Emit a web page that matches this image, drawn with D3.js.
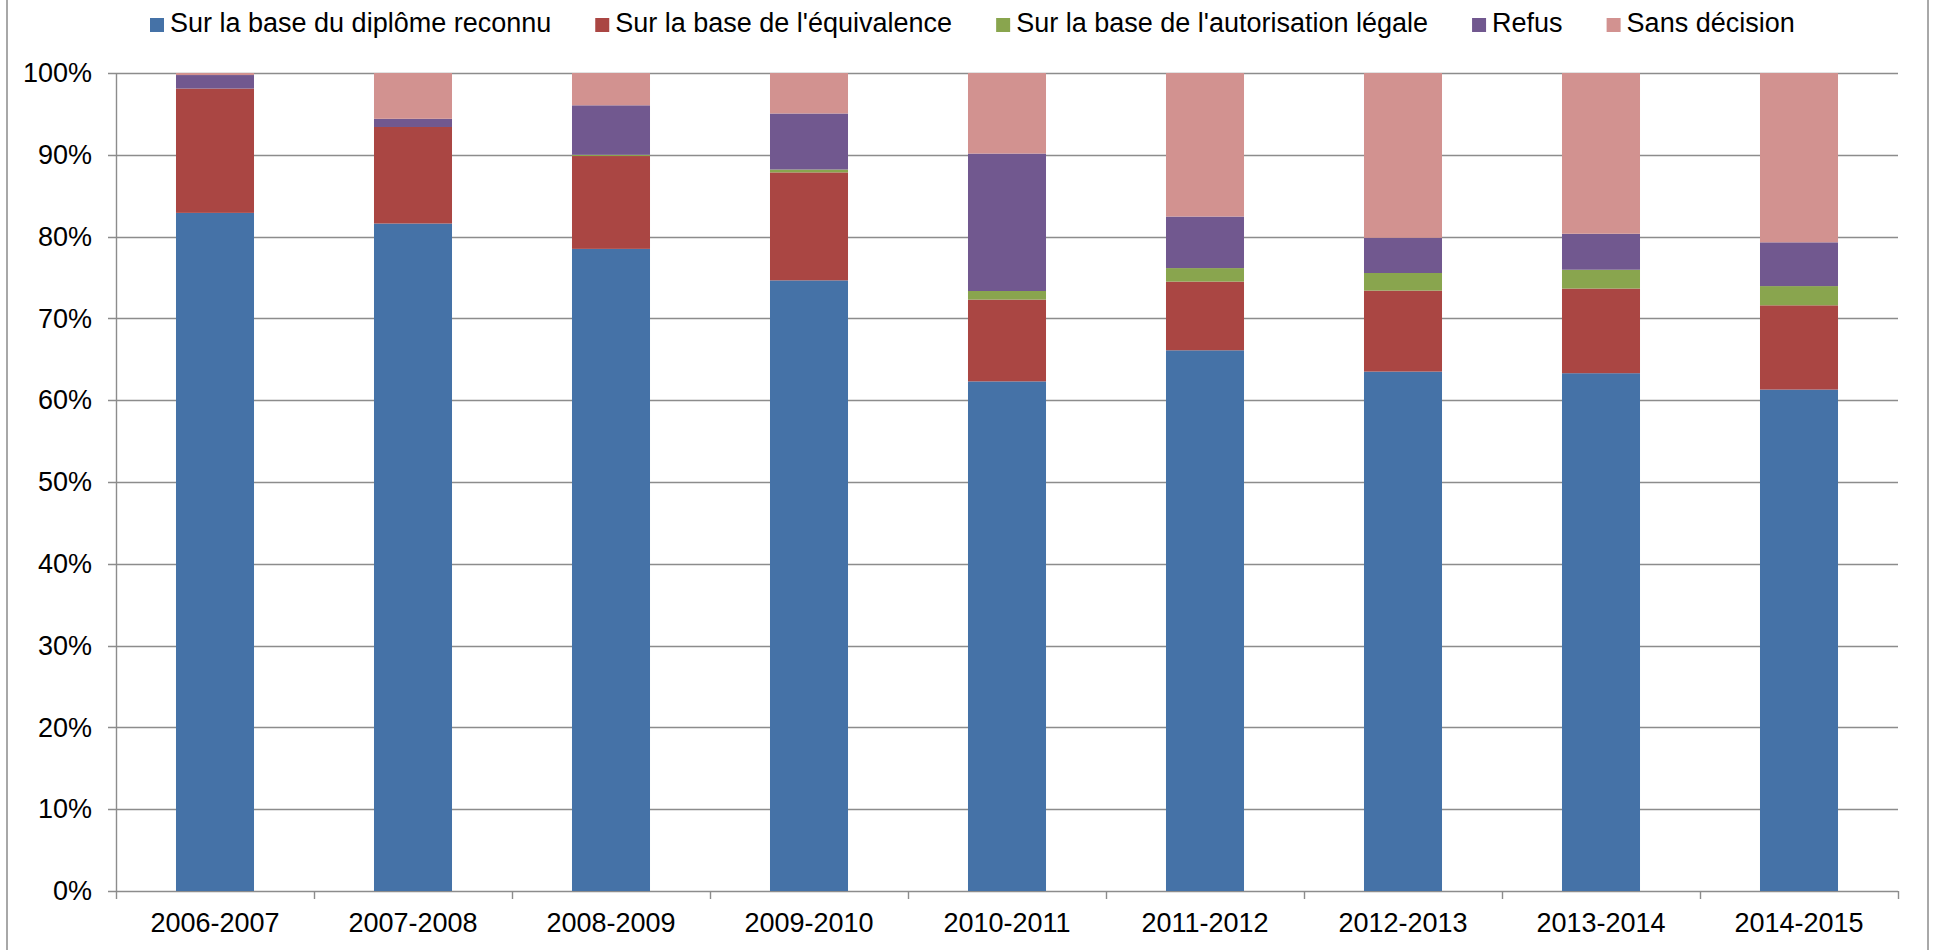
<!DOCTYPE html>
<html>
<head>
<meta charset="utf-8">
<script src="https://cdn.jsdelivr.net/npm/d3@7"></script>
<style>
  body { margin: 0; background: #fff; }
  text { font-family: "Liberation Sans", Arial, sans-serif; fill: #000; }
</style>
</head>
<body>
<div id="chart"></div>
<script>
// années
let categories = ["2006-2007", "2007-2008", "2008-2009", "2009-2010", "2010-2011",
  "2011-2012", "2012-2013", "2013-2014", "2014-2015"];

// parts en % par série
let diplome      = [82.9, 81.6, 78.5, 74.65, 62.3, 66.1, 63.5, 63.3, 61.3];
let equivalence  = [15.2, 11.8, 11.35, 13.2, 10.0, 8.4, 9.9, 10.35, 10.3];
let autorisation = [0, 0, 0.15, 0.35, 1.05, 1.65, 2.15, 2.3, 2.35];
let refus        = [1.65, 1.0, 6.05, 6.85, 16.8, 6.3, 4.3, 4.4, 5.35];
let sansDecision = [0.25, 5.6, 3.95, 4.95, 9.85, 17.55, 20.15, 19.65, 20.7];

let seriesNames = ["Sur la base du diplôme reconnu", "Sur la base de l'équivalence",
  "Sur la base de l'autorisation légale", "Refus", "Sans décision"];
let yTicks = [0, 0.1, 0.2, 0.3, 0.4, 0.5, 0.6, 0.7, 0.8, 0.9, 1];

let colors = ["#4572a7", "#aa4643", "#89a54e", "#71588f", "#d29290"];

let width = 1933;
let height = 950;
let plotLeft = 116, plotRight = 1898, plotTop = 73, plotBottom = 891;

let keys = ["diplome", "equivalence", "autorisation", "refus", "sansDecision"];
let table = categories.map((c, i) => ({
  cat: c,
  diplome: diplome[i],
  equivalence: equivalence[i],
  autorisation: autorisation[i],
  refus: refus[i],
  sansDecision: sansDecision[i]
}));

let stacked = d3.stack().keys(keys).offset(d3.stackOffsetExpand)(table);

let x = d3.scaleBand()
  .domain(categories)
  .range([plotLeft, plotRight])
  .paddingInner(0.606)
  .paddingOuter(0.303);

let y = d3.scaleLinear().domain([0, 1]).range([plotBottom, plotTop]);

let color = d3.scaleOrdinal().domain(keys).range(colors);

let svg = d3.select("#chart").append("svg")
  .attr("width", width)
  .attr("height", height)
  .style("display", "block");

// cadre
svg.append("rect")
  .attr("x", 7).attr("y", -5)
  .attr("width", 1921).attr("height", height + 10)
  .attr("fill", "none")
  .attr("stroke", "#8c8c8c")
  .attr("stroke-width", 1.5);

// grille
svg.append("g")
  .selectAll("line")
  .data(yTicks)
  .enter()
  .append("line")
  .attr("x1", plotLeft - 8)
  .attr("x2", plotRight)
  .attr("y1", d => Math.round(y(d)) + 0.5)
  .attr("y2", d => Math.round(y(d)) + 0.5)
  .attr("stroke", "#8c8c8c")
  .attr("stroke-width", 1.4);

// barres
svg.append("g")
  .selectAll("g")
  .data(stacked)
  .enter()
  .append("g")
  .attr("fill", d => color(d.key))
  .selectAll("rect")
  .data(d => d)
  .enter()
  .append("rect")
  .attr("x", d => x(d.data.cat))
  .attr("width", x.bandwidth())
  .attr("y", d => y(d[1]))
  .attr("height", d => y(d[0]) - y(d[1]));

// axe vertical
svg.append("line")
  .attr("x1", plotLeft + 0.5).attr("x2", plotLeft + 0.5)
  .attr("y1", plotTop).attr("y2", plotBottom + 1)
  .attr("stroke", "#8c8c8c")
  .attr("stroke-width", 1.4);

// étiquettes y
svg.append("g")
  .selectAll("text")
  .data(yTicks)
  .enter()
  .append("text")
  .attr("x", 92)
  .attr("y", d => y(d))
  .attr("dy", "0.34em")
  .attr("text-anchor", "end")
  .style("font-size", "27px")
  .text(d3.format(".0%"));

// graduations x aux limites des catégories
let bounds = d3.range(categories.length + 1).map(i => plotLeft + i * x.step());
svg.append("g")
  .selectAll("line")
  .data(bounds)
  .enter()
  .append("line")
  .attr("x1", d => Math.round(d) + 0.5)
  .attr("x2", d => Math.round(d) + 0.5)
  .attr("y1", plotBottom)
  .attr("y2", plotBottom + 8)
  .attr("stroke", "#8c8c8c")
  .attr("stroke-width", 1.4);

svg.append("g")
  .selectAll("text")
  .data(categories)
  .enter()
  .append("text")
  .attr("x", d => x(d) + x.bandwidth() / 2)
  .attr("y", 932)
  .attr("text-anchor", "middle")
  .style("font-size", "27px")
  .text(d => d);

// légende
let legend = svg.append("g");
let items = legend.selectAll("g")
  .data(seriesNames)
  .enter()
  .append("g");

items.append("rect")
  .attr("width", 14)
  .attr("height", 14)
  .attr("y", 18)
  .attr("fill", (d, i) => colors[i]);

items.append("text")
  .attr("x", 20)
  .attr("y", 32)
  .style("font-size", "27px")
  .text(d => d);

let gap = 44;
let pos = 0;
items.each(function() {
  let w = d3.select(this).select("text").node().getComputedTextLength();
  d3.select(this).attr("transform", "translate(" + pos + ",0)");
  pos += 20 + w + gap;
});
let total = pos - gap;
legend.attr("transform", "translate(" + Math.round(972 - total / 2) + ",0)");
</script>
</body>
</html>
